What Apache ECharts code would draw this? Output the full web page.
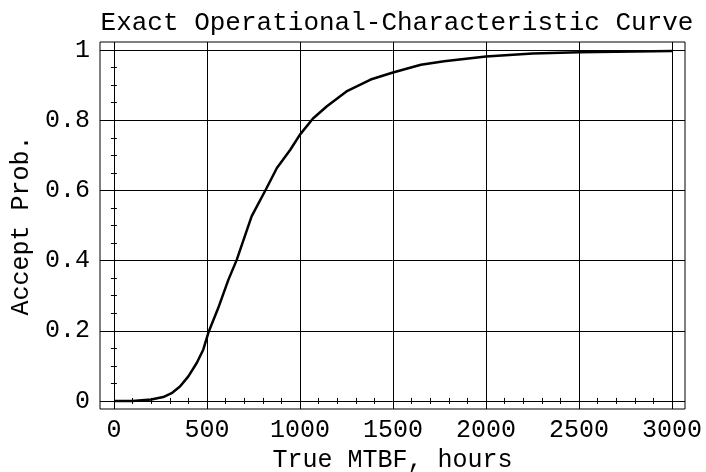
<!DOCTYPE html>
<html>
<head>
<meta charset="utf-8">
<script src="https://cdn.jsdelivr.net/npm/echarts@6/dist/echarts.min.js"></script>
<style>
  html, body { margin: 0; padding: 0; background: #fff; }
  #chart { width: 706px; height: 472px; }
</style>
</head>
<body>
<div id="chart"></div>
<script>
// Operating characteristic of the acceptance test: true MTBF vs. probability of acceptance
const mtbfHours = [0, 100, 200, 265, 310, 355, 400, 445, 480, 510, 560, 615, 660, 740, 818, 876, 948, 1000, 1070, 1145, 1250, 1380, 1500, 1650, 1775, 2000, 2250, 2500, 3000];
const acceptProb = [0, 0.000, 0.004, 0.011, 0.022, 0.041, 0.070, 0.108, 0.146, 0.198, 0.264, 0.345, 0.402, 0.526, 0.604, 0.664, 0.716, 0.759, 0.805, 0.840, 0.882, 0.916, 0.936, 0.958, 0.968, 0.982, 0.990, 0.994, 0.997];

const xTicks = [0, 500, 1000, 1500, 2000, 2500, 3000];
const xMinorTicks = [];
for (let v = 0; v <= 3000; v += 100) if (v % 500 !== 0) xMinorTicks.push(v);
const yTicks = [0, 0.2, 0.4, 0.6, 0.8, 1];
const yMinorTicks = [0.05, 0.1, 0.15, 0.25, 0.3, 0.35, 0.45, 0.5, 0.55, 0.65, 0.7, 0.75, 0.85, 0.9, 0.95];

const xRange = { min: -75, max: 3070 };
const yRange = { min: -0.023, max: 1.023 };

const FONT = 'Liberation Mono';
const txt = { fontFamily: FONT, fontSize: 25, color: '#000' };

// one helper per frame side: tick marks only, pointing into the plot
function tickAxis(base, position, values, len) {
  return Object.assign({}, base, {
    type: 'value',
    position: position,
    axisLine: { show: false },
    axisLabel: { show: false },
    splitLine: { show: false },
    axisTick: { show: true, inside: true, length: len, customValues: values, lineStyle: { color: '#000', width: 1 } }
  });
}

const chart = echarts.init(document.getElementById('chart'), null, { renderer: 'canvas' });
chart.setOption({
  backgroundColor: '#fff',
  animation: false,
  title: {
    text: 'Exact Operational-Characteristic Curve',
    left: 392,
    textAlign: 'center',
    top: 5,
    textStyle: Object.assign({}, txt, { fontWeight: 'normal', fontSize: 26 })
  },
  grid: {
    left: 100, right: 21, top: 42, bottom: 63,
    outerBoundsMode: 'none',
    containLabel: false,
    show: true, borderColor: '#000', borderWidth: 1, backgroundColor: 'transparent'
  },
  xAxis: [
    Object.assign({}, xRange, {
      type: 'value',
      position: 'bottom',
      name: 'True MTBF, hours',
      nameLocation: 'middle',
      nameGap: 34,
      nameTextStyle: txt,
      axisLine: { show: false },
      axisTick: { show: true, inside: true, length: 5, customValues: xTicks, lineStyle: { color: '#000' } },
      axisLabel: { customValues: xTicks, margin: 9, formatter: v => String(v), ...txt },
      splitLine: { show: true, lineStyle: { color: '#000', width: 1 } }
    }),
    tickAxis(xRange, 'bottom', xMinorTicks, 3),
    tickAxis(xRange, 'top', xTicks, 5),
    tickAxis(xRange, 'top', xMinorTicks, 3)
  ],
  yAxis: [
    Object.assign({}, yRange, {
      type: 'value',
      position: 'left',
      name: 'Accept Prob.',
      nameLocation: 'middle',
      nameGap: 57,
      nameTextStyle: txt,
      axisLine: { show: false },
      axisTick: { show: true, inside: true, length: 5, customValues: yTicks, lineStyle: { color: '#000' } },
      axisLabel: { customValues: yTicks, margin: 10, formatter: v => String(v), ...txt },
      splitLine: { show: true, lineStyle: { color: '#000', width: 1 } }
    }),
    tickAxis(yRange, 'left', yMinorTicks, 3),
    tickAxis(yRange, 'right', yTicks, 5),
    tickAxis(yRange, 'right', yMinorTicks, 3)
  ],
  series: [{
    type: 'line',
    xAxisIndex: 0,
    yAxisIndex: 0,
    data: mtbfHours.map((x, i) => [x, acceptProb[i]]),
    showSymbol: false,
    smooth: false,
    lineStyle: { color: '#000', width: 2.5 },
    z: 5
  }]
});
</script>
</body>
</html>
